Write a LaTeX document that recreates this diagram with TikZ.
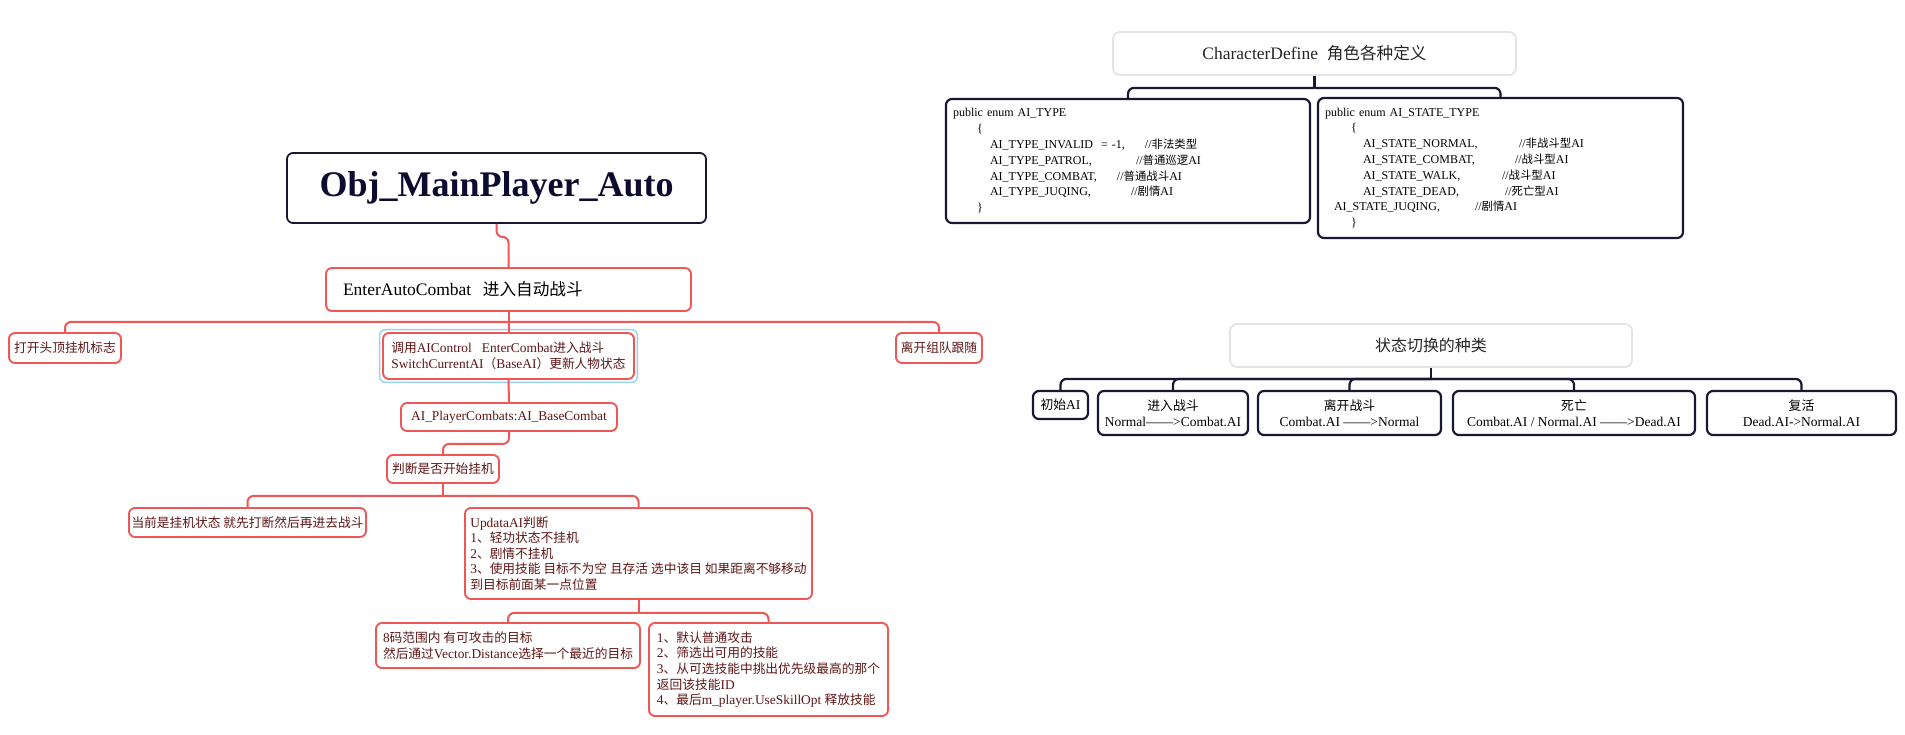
\documentclass[tikz,border=0pt]{standalone}
\usepackage{fontspec}
\setmainfont{Liberation Serif}
\newfontfamily\zhfont{Noto Sans CJK SC}[Scale=0.95]
\newcommand{\zh}[1]{{\zhfont #1}}

\definecolor{mapred}{RGB}{240,86,86}
\definecolor{mapmaroon}{RGB}{95,22,22}
\definecolor{mapnavy}{RGB}{24,24,52}
\definecolor{titleink}{RGB}{12,12,48}
\definecolor{selblue}{RGB}{150,212,242}
\definecolor{headgray}{RGB}{228,228,228}

\tikzset{
  titlebox/.style={draw=mapnavy, line width=1.8pt, rounded corners=6pt, fill=white,
    text=titleink, font=\bfseries\fontsize{36}{40}\selectfont, inner sep=0pt},
  redbox/.style={draw=mapred, line width=1.9pt, rounded corners=6pt, fill=white,
    text=mapmaroon, font=\fontsize{13.4}{15.6}\selectfont, align=left, inner sep=0pt},
  navybox/.style={draw=mapnavy, line width=2.2pt, rounded corners=6pt, fill=white,
    text=black, font=\fontsize{13.5}{16}\selectfont, align=center, inner sep=0pt},
  codebox/.style={navybox, font=\fontsize{12}{15.8}\selectfont, align=left, inner xsep=7pt},
  headbox/.style={draw=headgray, line width=1.8pt, rounded corners=7pt, fill=white,
    text=black!85, inner sep=0pt},
  redline/.style={draw=mapred, line width=2pt, rounded corners=6pt},
  navyline/.style={draw=mapnavy, line width=2.2pt, rounded corners=6pt},
}

\begin{document}
\begin{tikzpicture}[x=1pt,y=-1pt]
  \fill[white] (0,0) rectangle (1905,734);
  \useasboundingbox (0,0) rectangle (1905,734);

  % left tree
  \node[titlebox, minimum width=419pt, minimum height=70pt] (main) at (496.5,188) {Obj\_MainPlayer\_Auto};
  \node[redbox, text=black, font=\fontsize{17.5}{20}\selectfont, text width=331pt, inner xsep=17pt, minimum height=43pt] (enter) at (508.5,289.5) {EnterAutoCombat\ \ \zh{进入自动战斗}};

  \node[redbox, minimum width=112pt, minimum height=30pt] (flag) at (65,348) {\zh{打开头顶挂机标志}};
  \node[redbox, minimum width=251pt, minimum height=46pt] (call) at (508.5,356) {\zh{调用}AIControl\ \ \ EnterCombat\zh{进入战斗}\\SwitchCurrentAI\zh{（}BaseAI\zh{）更新人物状态}};
  \node[redbox, minimum width=86pt, minimum height=30pt] (leave) at (939,348) {\zh{离开组队跟随}};
  \draw[selblue, line width=1.5pt, rounded corners=6pt] ([shift={(-2.5,-2.5)}]call.north west) rectangle ([shift={(2.5,2.5)}]call.south east);

  \node[redbox, minimum width=216pt, minimum height=28pt] (aip) at (509,417) {AI\_PlayerCombats:AI\_BaseCombat};
  \node[redbox, minimum width=112pt, minimum height=28pt] (judge) at (443,469) {\zh{判断是否开始挂机}};

  \node[redbox, minimum width=237pt, minimum height=29pt] (now) at (247.5,522.5) {\zh{当前是挂机状态 就先打断然后再进去战斗}};
  \node[redbox, minimum width=347pt, minimum height=91pt] (upd) at (638.5,553.5) {UpdataAI\zh{判断}\\1\zh{、轻功状态不挂机}\\2\zh{、剧情不挂机}\\3\zh{、使用技能 目标不为空 且存活 选中该目 如果距离不够移动}\\\zh{到目标前面某一点位置}};

  \node[redbox, minimum width=264pt, minimum height=45pt] (range) at (508,645.5) {8\zh{码范围内 有可攻击的目标}\\\zh{然后通过}Vector.Distance\zh{选择一个最近的目标}};
  \node[redbox, minimum width=239pt, minimum height=93pt] (skill) at (768.5,669.5) {1\zh{、默认普通攻击}\\2\zh{、筛选出可用的技能}\\3\zh{、从可选技能中挑出优先级最高的那个}\\\zh{返回该技能}ID\\4\zh{、最后}m\_player.UseSkillOpt\ \zh{释放技能}};

  \draw[redline] (main.south) -- ++(0,13) -| (enter.north);
  \draw[redline] (enter.south) -- (call.north);
  \draw[redline] (enter.south) -- ++(0,10) coordinate (ebar);
  \draw[redline] (ebar) -| (flag.north);
  \draw[redline] (ebar) -| (leave.north);
  \draw[redline] (call.south) -- (aip.north);
  \draw[redline] (aip.south) -- ++(0,12) -| (judge.north);
  \draw[redline] (judge.south) -- ++(0,12) coordinate (jbar);
  \draw[redline] (jbar) -| (now.north);
  \draw[redline] (jbar) -| (upd.north);
  \draw[redline] (upd.south) -- ++(0,13) coordinate (ubar);
  \draw[redline] (ubar) -| (range.north);
  \draw[redline] (ubar) -| (skill.north);

  % character define
  \node[headbox, font=\fontsize{17.5}{20}\selectfont, minimum width=403pt, minimum height=43pt] (chardef) at (1314.5,53.5) {CharacterDefine\ \ \zh{角色各种定义}};
  \node[codebox, text width=350pt, minimum height=124pt] (aitype) at (1128,161) {%
public enum AI\_TYPE\\
\hspace*{24pt}\{\\
\hspace*{37pt}\makebox[155pt][l]{AI\_TYPE\_INVALID\ \ = -1,}//\zh{非法类型}\\
\hspace*{37pt}\makebox[146pt][l]{AI\_TYPE\_PATROL,}//\zh{普通巡逻}AI\\
\hspace*{37pt}\makebox[127pt][l]{AI\_TYPE\_COMBAT,}//\zh{普通战斗}AI\\
\hspace*{37pt}\makebox[141pt][l]{AI\_TYPE\_JUQING,}//\zh{剧情}AI\\
\hspace*{24pt}\}};
  \node[codebox, text width=351pt, minimum height=140pt] (aistate) at (1500.5,168) {%
public enum AI\_STATE\_TYPE\\
\hspace*{26pt}\{\\
\hspace*{38pt}\makebox[156pt][l]{AI\_STATE\_NORMAL,}//\zh{非战斗型}AI\\
\hspace*{38pt}\makebox[152pt][l]{AI\_STATE\_COMBAT,}//\zh{战斗型}AI\\
\hspace*{38pt}\makebox[139pt][l]{AI\_STATE\_WALK,}//\zh{战斗型}AI\\
\hspace*{38pt}\makebox[142pt][l]{AI\_STATE\_DEAD,}//\zh{死亡型}AI\\
\hspace*{9pt}\makebox[141pt][l]{AI\_STATE\_JUQING,}//\zh{剧情}AI\\
\hspace*{26pt}\}};

  \draw[navyline] (chardef.south) -- ++(0,12) coordinate (cbar);
  \draw[navyline] (cbar) -| (aitype.north);
  \draw[navyline] (cbar) -| (aistate.north);

  % state switch
  \node[headbox, font=\fontsize{16.8}{20}\selectfont, minimum width=402pt, minimum height=43pt] (stype) at (1431,345.5) {\zh{状态切换的种类}};
  \node[navybox, minimum width=55pt, minimum height=28pt] (init) at (1060.5,405) {\zh{初始}AI};
  \node[navybox, minimum width=150pt, minimum height=44pt] (enterc) at (1173,413) {\zh{进入战斗}\\Normal——>Combat.AI};
  \node[navybox, minimum width=183pt, minimum height=44pt] (leavec) at (1349.5,413) {\zh{离开战斗}\\Combat.AI ——>Normal};
  \node[navybox, minimum width=242pt, minimum height=44pt] (dead) at (1574,413) {\zh{死亡}\\Combat.AI / Normal.AI ——>Dead.AI};
  \node[navybox, minimum width=189pt, minimum height=44pt] (revive) at (1801.5,413) {\zh{复活}\\Dead.AI->Normal.AI};

  \draw[navyline] (stype.south) -- ++(0,11) coordinate (sbar);
  \foreach \s in {init,enterc,leavec,dead,revive}
    \draw[navyline] (sbar) -| (\s.north);
\end{tikzpicture}
\end{document}
